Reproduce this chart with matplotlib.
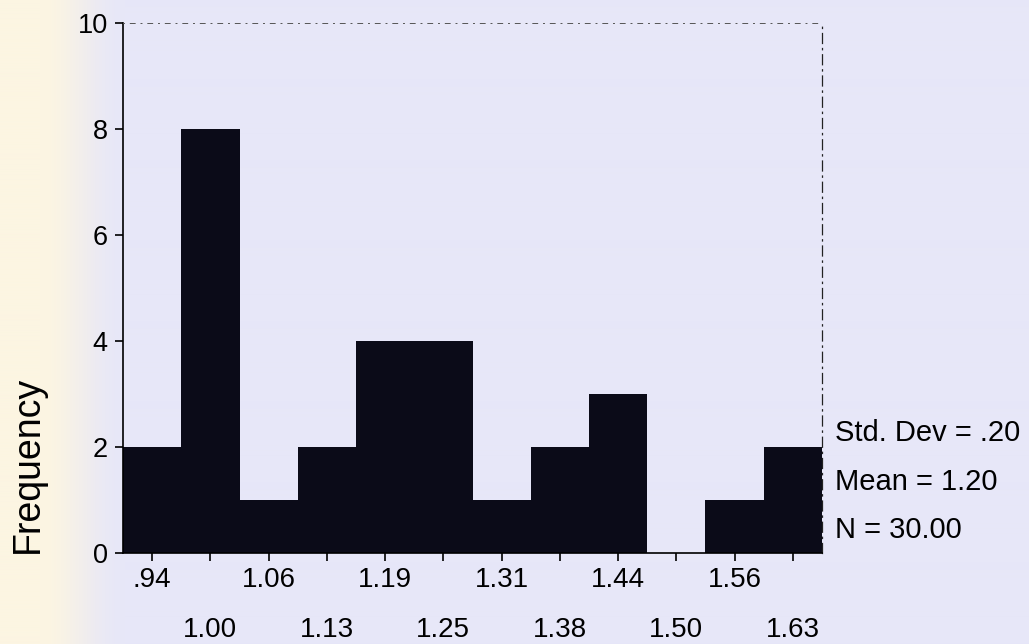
import matplotlib
matplotlib.use("Agg")
import numpy as np
import matplotlib.pyplot as plt
from matplotlib.colors import to_rgb
from matplotlib.ticker import FixedLocator, FixedFormatter

# Histogram data: bin centres, tick labels and counts per bin
bin_centers = [0.9375, 1.0, 1.0625, 1.125, 1.1875, 1.25,
               1.3125, 1.375, 1.4375, 1.5, 1.5625, 1.625]
bin_labels = [".94", "1.00", "1.06", "1.13", "1.19", "1.25",
              "1.31", "1.38", "1.44", "1.50", "1.56", "1.63"]
counts = [2, 8, 1, 2, 4, 4, 1, 2, 3, 0, 1, 2]
bin_width = 0.0625

y_ticks = [0, 2, 4, 6, 8, 10]
stats_lines = ["Std. Dev = .20", "Mean = 1.20", "N = 30.00"]

plt.rcParams["font.family"] = ["Liberation Sans", "DejaVu Sans"]

bg = "#e7e7f8"
cream = "#fcf5e2"
W, H = 1029, 644
fig = plt.figure(figsize=(W / 100, H / 100), dpi=100, facecolor=bg)

# Page background: cream margin on the left fading into lavender
bg_ax = fig.add_axes([0, 0, 1, 1], zorder=-10)
bg_ax.set_axis_off()
xs = np.arange(W)
t = np.clip((xs - 40) / 85.0, 0, 1)
t = t * t * (3 - 2 * t)
c0, c1 = np.array(to_rgb(cream)), np.array(to_rgb(bg))
row = c0[None, :] * (1 - t)[:, None] + c1[None, :] * t[:, None]
bg_ax.imshow(np.repeat(row[None, :, :], 8, axis=0), aspect="auto",
             extent=[0, 1, 0, 1], interpolation="bilinear")

ax = fig.add_axes([123 / W, 1 - 553 / H, 699 / W, 530 / H])
ax.set_facecolor("none")

ax.bar(bin_centers, counts, width=bin_width * 1.002, color="#0b0b18",
       edgecolor="none", linewidth=0, align="center")

ax.set_xlim(bin_centers[0] - bin_width / 2, bin_centers[-1] + bin_width / 2)
ax.set_ylim(0, 10)

# y axis
ax.set_yticks(y_ticks)
ax.set_yticklabels([str(v) for v in y_ticks])
ax.tick_params(axis="y", direction="out", length=6, width=1.2,
               labelsize=19.5, pad=5, colors="black")

# x axis: labels alternate between two rows
ax.xaxis.set_major_locator(FixedLocator(bin_centers[0::2]))
ax.xaxis.set_major_formatter(FixedFormatter(bin_labels[0::2]))
ax.xaxis.set_minor_locator(FixedLocator(bin_centers[1::2]))
ax.xaxis.set_minor_formatter(FixedFormatter(bin_labels[1::2]))
ax.tick_params(axis="x", which="major", direction="out", length=6,
               width=1.2, labelsize=20, pad=4)
ax.tick_params(axis="x", which="minor", direction="out", length=6,
               width=1.2, labelsize=20, pad=40)

for side in ("left", "bottom"):
    ax.spines[side].set_linewidth(1.2)
    ax.spines[side].set_color("black")
ax.spines["top"].set_linewidth(0.7)
ax.spines["top"].set_linestyle((0, (1, 6, 5, 6)))
ax.spines["top"].set_color("#555555")
ax.spines["right"].set_linewidth(0.9)
ax.spines["right"].set_linestyle((0, (8, 4, 1, 4)))
ax.spines["right"].set_color("#222222")

fig.text(28 / W, 1 - 464 / H, "Frequency", rotation=90,
         fontsize=27, ha="center", va="center")

for i, line in enumerate(stats_lines):
    fig.text(835 / W, 1 - (433 + 48.5 * i) / H, line,
             fontsize=21, ha="left", va="center")

fig.savefig("out.png", dpi=100, facecolor=bg)
